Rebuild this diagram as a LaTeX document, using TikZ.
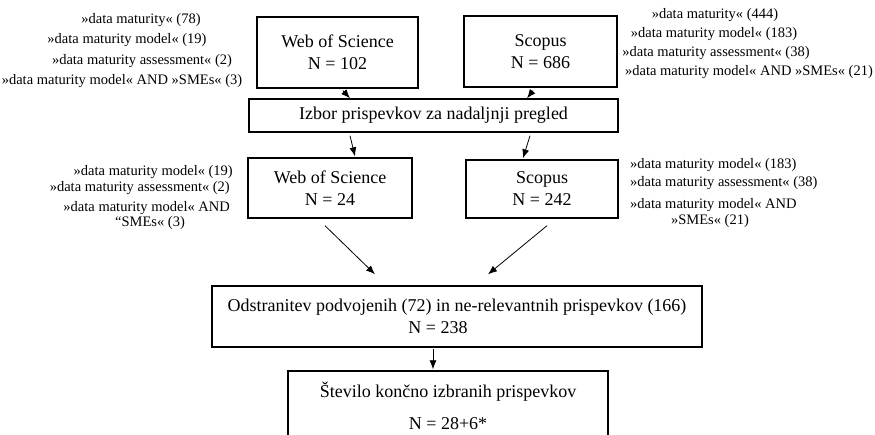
\documentclass[tikz,border=0pt]{standalone}
\usepackage{fontspec}
\setmainfont{Liberation Serif}
\usetikzlibrary{arrows.meta, calc}

\begin{document}
\begin{tikzpicture}[x=1pt, y=-1pt,
    box/.style={rectangle, draw, line width=1.4pt, align=center, inner sep=0pt, font=\fontsize{18}{22}\selectfont},
    note/.style={inner sep=0pt, font=\fontsize{14.5}{17}\selectfont},
    arrow/.style={-{Latex[length=9pt, width=7pt]}, line width=0.8pt}
]
    \clip (0,0) rectangle (875,434);

    % iskanje v bazah (zgoraj)
    \node[box, minimum width=161, minimum height=71] (wos1) at (337.5, 52.5) {Web of Science\\N = 102};
    \node[box, minimum width=153, minimum height=71] (sco1) at (540.5, 51.5) {Scopus\\N = 686};
    \node[box, minimum width=369, minimum height=33] (izbor) at (433.5, 115.5) {Izbor prispevkov za nadaljnji pregled};

    % iskalni nizi (zgoraj levo in desno)
    \node[note] (tl1) at (141, 20) {»data maturity« (78)};
    \node[note] (tl2) at (127, 40) {»data maturity model« (19)};
    \node[note] (tl3) at (142, 61) {»data maturity assessment« (2)};
    \node[note] (tl4) at (122, 81) {»data maturity model« AND »SMEs« (3)};
    \node[note] (tr1) at (715, 15) {»data maturity« (444)};
    \node[note] (tr2) at (714, 34) {»data maturity model« (183)};
    \node[note] (tr3) at (716, 53) {»data maturity assessment« (38)};
    \node[note] (tr4) at (749, 72) {»data maturity model« AND »SMEs« (21)};

    % izbrani prispevki (sredina)
    \node[box, minimum width=164, minimum height=60] (wos2) at (330, 188) {Web of Science\\N = 24};
    \node[box, minimum width=152, minimum height=58] (sco2) at (542, 189) {Scopus\\N = 242};

    \node[note, anchor=east] (bl1) at (233, 172) {»data maturity model« (19)};
    \node[note, anchor=east] (bl2) at (230, 188) {»data maturity assessment« (2)};
    \node[note, anchor=east] (bl3) at (230, 208) {»data maturity model« AND};
    \node[note] (bl4) at (150, 223) {“SMEs« (3)};
    \node[note, anchor=west] (br1) at (630, 165) {»data maturity model« (183)};
    \node[note, anchor=west] (br2) at (630, 183) {»data maturity assessment« (38)};
    \node[note, anchor=west] (br3) at (630, 205) {»data maturity model« AND};
    \node[note] (br4) at (710, 221) {»SMEs« (21)};

    % odstranitev in koncni izbor (spodaj)
    \node[box, minimum width=490, minimum height=61] (odst) at (457, 316.5) {Odstranitev podvojenih (72) in ne-relevantnih prispevkov (166)\\\hspace*{-38pt}N = 238};
    \node[box, minimum width=320, minimum height=70] (final) at (448, 406) {Število končno izbranih prispevkov\\[10pt]N = 28+6*};

    % puscice
    \draw[arrow] ($(wos1.south)+(5.5,2)$) -- ($(izbor.north)+(-83.5,0)$);
    \draw[arrow] ($(sco1.south)+(-7.5,3)$) -- ($(izbor.north)+(93.5,0)$);
    \draw[arrow] ($(izbor.south)+(-83.5,3)$) -- ($(wos2.north)+(25,-1)$);
    \draw[arrow] ($(izbor.south)+(96.5,3)$) -- ($(sco2.north)+(-19,-1)$);
    \draw[arrow] ($(wos2.south)+(-5,7)$) -- ($(odst.north)+(-82,-11)$);
    \draw[arrow] ($(sco2.south)+(5,7)$) -- ($(odst.north)+(31,-11)$);
    \draw[arrow] ($(odst.south)+(-24,1)$) -- ($(final.north)+(-15,-1)$);
\end{tikzpicture}
\end{document}
